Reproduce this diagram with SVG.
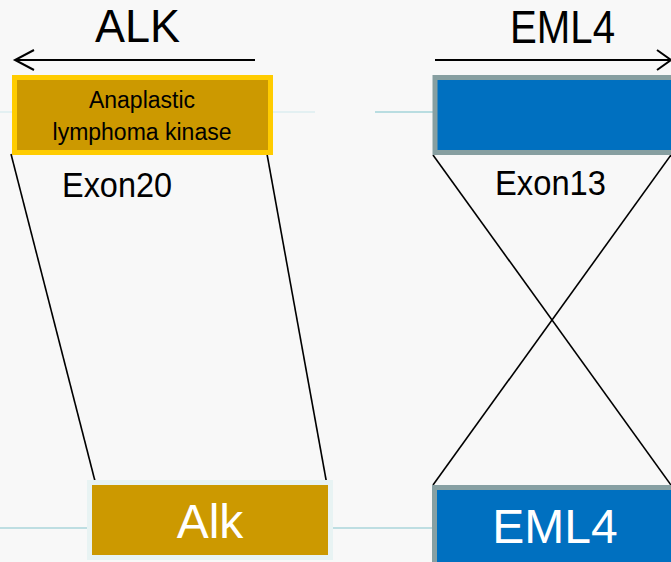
<svg xmlns="http://www.w3.org/2000/svg" width="671" height="562" viewBox="0 0 671 562">
  <defs>
    <style>
      .title { font-family: "Liberation Sans", Arial, sans-serif; font-size: 46px; fill: #000; text-anchor: middle; }
      .exon { font-family: "Liberation Sans", Arial, sans-serif; font-size: 35px; fill: #000; }
      .small { font-family: "Liberation Sans", Arial, sans-serif; font-size: 23px; fill: #000; text-anchor: middle; }
      .big { font-family: "Liberation Sans", Arial, sans-serif; font-size: 48px; fill: #fff; text-anchor: middle; }
      .conn { stroke: #000; stroke-width: 1.6; fill: none; }
      .arrow { stroke: #000; stroke-width: 2; fill: none; }
      .guide { stroke-width: 2; fill: none; }
    </style>
  </defs>
  <rect x="0" y="0" width="671" height="562" fill="#f8f8f8"/>

  <!-- faint guide lines -->
  <g id="guides">
    <line class="guide" x1="0" y1="112" x2="315" y2="112" stroke="#e3f0f2"/>
    <line class="guide" x1="375" y1="112" x2="434" y2="112" stroke="#b9dde1"/>
    <line class="guide" x1="0" y1="528" x2="88" y2="528" stroke="#bedee2"/>
    <line class="guide" x1="332" y1="528" x2="433" y2="528" stroke="#bedee2"/>
  </g>

  <!-- titles with direction arrows -->
  <g id="alk-title">
    <text class="title" x="137.5" y="42" textLength="85" lengthAdjust="spacingAndGlyphs">ALK</text>
    <line class="arrow" x1="255" y1="60" x2="16" y2="60"/>
    <polyline class="arrow" points="34,50 15,60 34,70"/>
  </g>
  <g id="eml4-title">
    <text class="title" x="562.5" y="43" textLength="105" lengthAdjust="spacingAndGlyphs">EML4</text>
    <line class="arrow" x1="435" y1="60" x2="670" y2="60"/>
    <polyline class="arrow" points="657,50 671,60 657,70"/>
  </g>

  <!-- connectors -->
  <g id="connectors">
    <line class="conn" x1="11" y1="154" x2="96" y2="485"/>
    <line class="conn" x1="267" y1="154" x2="327" y2="485"/>
    <line class="conn" x1="433" y1="155" x2="671" y2="485"/>
    <line class="conn" x1="671" y1="155" x2="433" y2="485"/>
  </g>

  <!-- ALK gene box -->
  <g id="alk-gene">
    <rect x="14.5" y="77.5" width="256" height="75" fill="#cc9900" stroke="#ffcc00" stroke-width="5"/>
    <text class="small" x="142" y="108">Anaplastic</text>
    <text class="small" x="142" y="140">lymphoma kinase</text>
  </g>

  <!-- EML4 gene box -->
  <g id="eml4-gene">
    <rect x="435" y="77.5" width="300" height="75" fill="#0070c0" stroke="#879fa1" stroke-width="5"/>
  </g>

  <!-- exon labels -->
  <g id="exon20">
    <text class="exon" x="62" y="197" textLength="110" lengthAdjust="spacingAndGlyphs">Exon20</text>
  </g>
  <g id="exon13">
    <text class="exon" x="495" y="195" textLength="111" lengthAdjust="spacingAndGlyphs" font-size="33">Exon13</text>
  </g>

  <!-- fusion product boxes -->
  <g id="alk-fusion">
    <rect x="89.5" y="482.5" width="241" height="75" fill="#cc9900" stroke="#e8f3f3" stroke-width="5"/>
    <text class="big" x="210" y="538">Alk</text>
  </g>
  <g id="eml4-fusion">
    <rect x="434.5" y="487.5" width="300" height="100" fill="#0070c0" stroke="#87a0a3" stroke-width="5"/>
    <text class="big" x="555" y="543">EML4</text>
  </g>
</svg>
